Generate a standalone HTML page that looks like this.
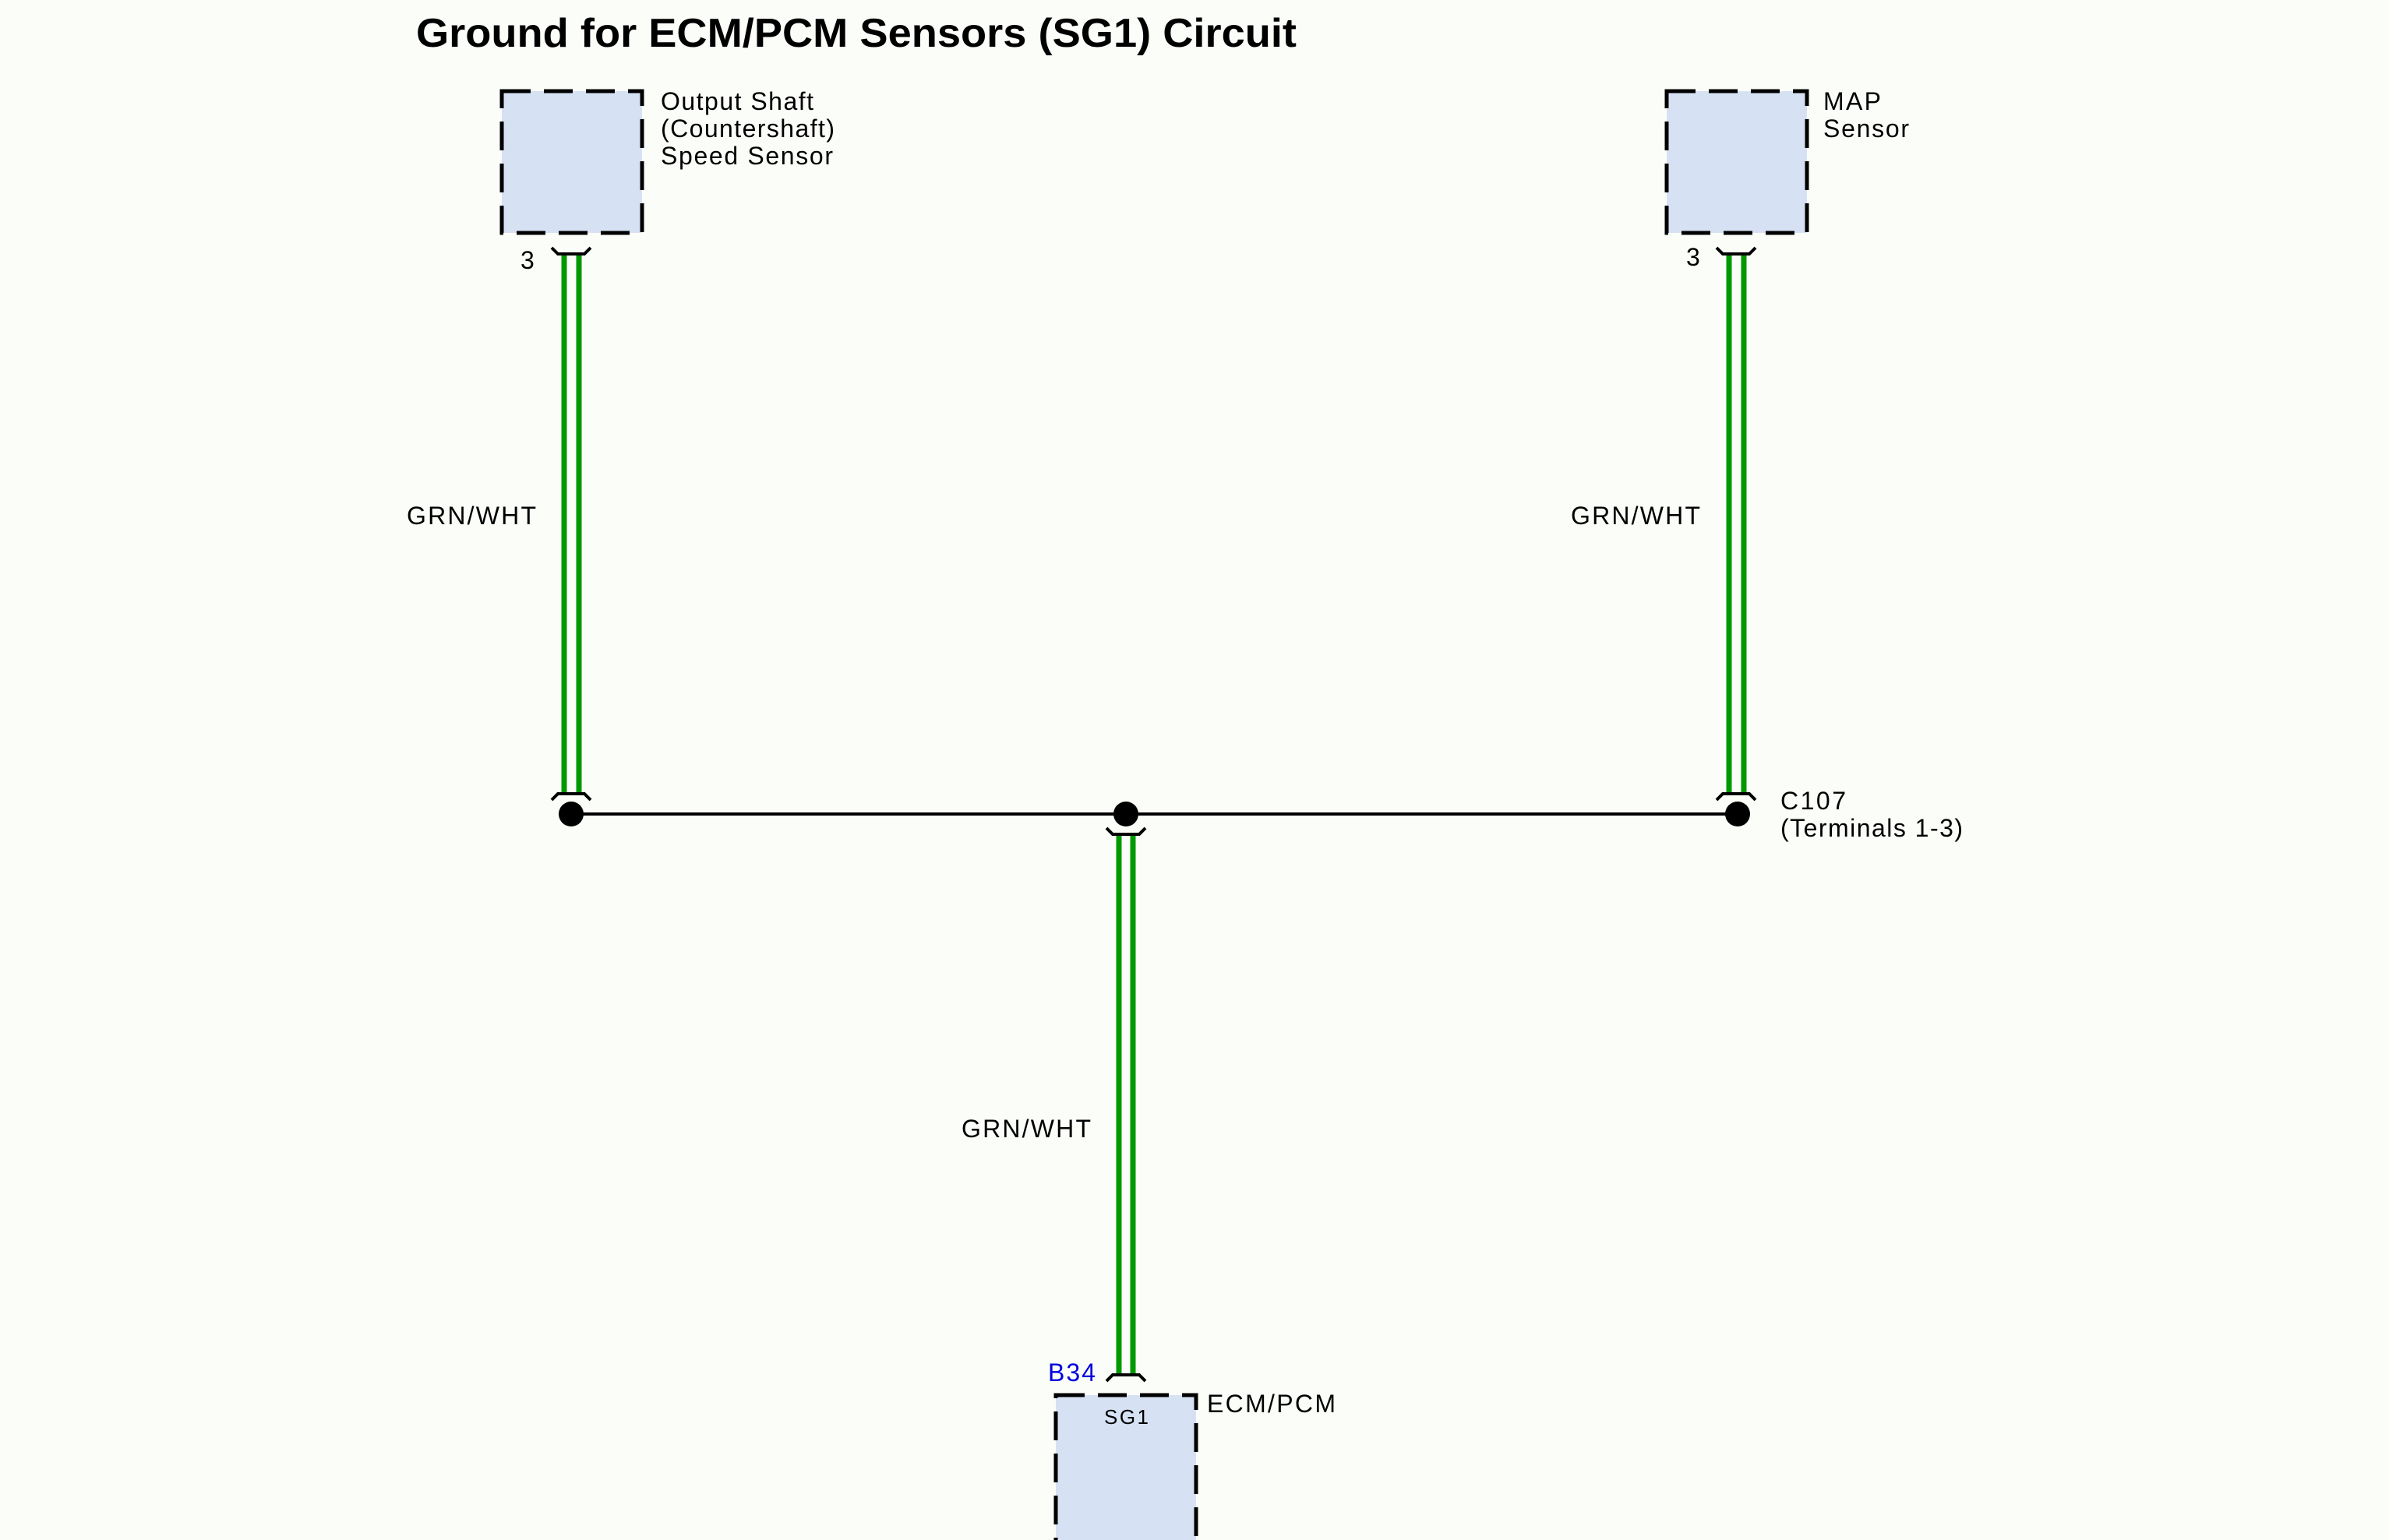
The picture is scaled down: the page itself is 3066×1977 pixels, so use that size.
<!DOCTYPE html>
<html><head><meta charset="utf-8"><style>
html,body{margin:0;padding:0;background:#fbfdf9;}
svg{display:block;}
text{font-family:"Liberation Sans",sans-serif;fill:#000;}
</style></head><body>
<svg width="3066" height="1977" viewBox="0 0 3066 1977" xmlns="http://www.w3.org/2000/svg">
<rect width="3066" height="1977" fill="#fbfdf9"/>
<text x="534" y="60" font-size="52" font-weight="bold" textLength="1130" lengthAdjust="spacingAndGlyphs">Ground for ECM/PCM Sensors (SG1) Circuit</text>

<g fill="#d6e2f3" stroke="#000" stroke-width="5" stroke-dasharray="37 17">
<rect x="644" y="117" width="180" height="182"/>
<rect x="2139" y="117" width="180" height="182"/>
<rect x="1355" y="1791" width="180" height="200"/>
</g>

<g font-size="32" lengthAdjust="spacingAndGlyphs">
<text x="848" y="141" textLength="196">Output Shaft</text>
<text x="848" y="176" textLength="223">(Countershaft)</text>
<text x="848" y="211" textLength="221">Speed Sensor</text>
<text x="2340" y="141" textLength="74">MAP</text>
<text x="2340" y="176" textLength="110">Sensor</text>
<text x="668" y="345">3</text>
<text x="2164" y="341">3</text>
<text x="522" y="673" textLength="166">GRN/WHT</text>
<text x="2016" y="673" textLength="166">GRN/WHT</text>
<text x="1234" y="1460" textLength="166">GRN/WHT</text>
<text x="2285" y="1039" textLength="84">C107</text>
<text x="2285" y="1074" textLength="234">(Terminals 1-3)</text>
<text x="1345" y="1773" style="fill:#0000dd" textLength="61">B34</text>
<text x="1549" y="1813" textLength="165">ECM/PCM</text>
<text x="1417" y="1828" font-size="26" textLength="57">SG1</text>
</g>

<g stroke="#009900" stroke-width="7">
<line x1="724" y1="327" x2="724" y2="1018"/><line x1="743" y1="327" x2="743" y2="1018"/>
<line x1="2219" y1="327" x2="2219" y2="1018"/><line x1="2238" y1="327" x2="2238" y2="1018"/>
<line x1="1436" y1="1073" x2="1436" y2="1764"/><line x1="1454" y1="1073" x2="1454" y2="1764"/>
</g>

<g stroke="#000" stroke-width="4" fill="none">
<line x1="733" y1="1045" x2="2230" y2="1045"/>
<polyline points="708,318 716,326 750,326 758,318"/>
<polyline points="2203,318 2211,326 2245,326 2253,318"/>
<polyline points="708,1027 716,1019 750,1019 758,1027"/>
<polyline points="2203,1027 2211,1019 2245,1019 2253,1027"/>
<polyline points="1420,1063 1428,1071 1462,1071 1470,1063"/>
<polyline points="1420,1773 1428,1765 1462,1765 1470,1773"/>
</g>
<g fill="#000">
<circle cx="733" cy="1045" r="16"/>
<circle cx="1445" cy="1045" r="16"/>
<circle cx="2230" cy="1045" r="16"/>
</g>
</svg>
</body></html>
